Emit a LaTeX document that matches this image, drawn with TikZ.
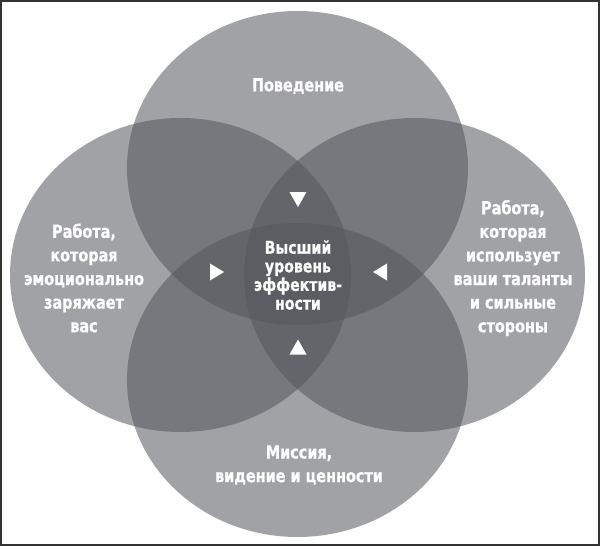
\documentclass[tikz,border=0pt]{standalone}
\usepackage{fontspec}
\newfontfamily\lbl{DejaVu Sans}[FakeStretch=0.80, BoldFeatures={FakeBold=0.7}]
\definecolor{circ}{rgb}{0.335,0.34,0.365}
\definecolor{frame}{gray}{0.2}
\begin{document}
\begin{tikzpicture}[x=1pt,y=-1pt,
  blob/.style={fill=circ,fill opacity=0.55,draw=none},
  sidetext/.style={text=white,align=center,font=\lbl\bfseries\fontsize{18}{23.6}\selectfont,inner sep=0pt},
  centertext/.style={text=white,align=center,font=\lbl\bfseries\fontsize{17.6}{18.6}\selectfont,inner sep=0pt},
  tri/.style={fill=white,draw=none}]
\useasboundingbox (0,0) rectangle (600,546);
\fill[white] (0,0) rectangle (600,546);
% circles
\fill[blob] (297.5,168) ellipse [x radius=170.5, y radius=157];
\fill[blob] (180.5,275) ellipse [x radius=170.5, y radius=157];
\fill[blob] (414.5,275) ellipse [x radius=170.5, y radius=157];
\fill[blob] (297.5,380) ellipse [x radius=170.5, y radius=157];
% frame
\draw[frame,line width=1.6pt] (0.8,0.8) rectangle (599.2,545.2);
% labels
\node[sidetext] (top) at (298,86) {Поведение};
\node[sidetext] (left) at (84,278) {Работа,\\которая\\эмоционально\\заряжает\\вас};
\node[sidetext] (right) at (513,268) {Работа,\\которая\\использует\\ваши таланты\\и сильные\\стороны};
\node[sidetext] (bottom) at (299,465) {Миссия,\\видение и ценности};
\node[centertext] (center) at (298,275) {Высший\\уровень\\эффектив-\\ности};
% triangles
\fill[tri] (289.5,192) -- (306.5,192) -- (298,207) -- cycle;
\fill[tri] (289.5,354.5) -- (306.5,354.5) -- (298,339.5) -- cycle;
\fill[tri] (210,263.5) -- (210,280.5) -- (224,272) -- cycle;
\fill[tri] (387,263.5) -- (387,280.5) -- (373,272) -- cycle;
\end{tikzpicture}
\end{document}
